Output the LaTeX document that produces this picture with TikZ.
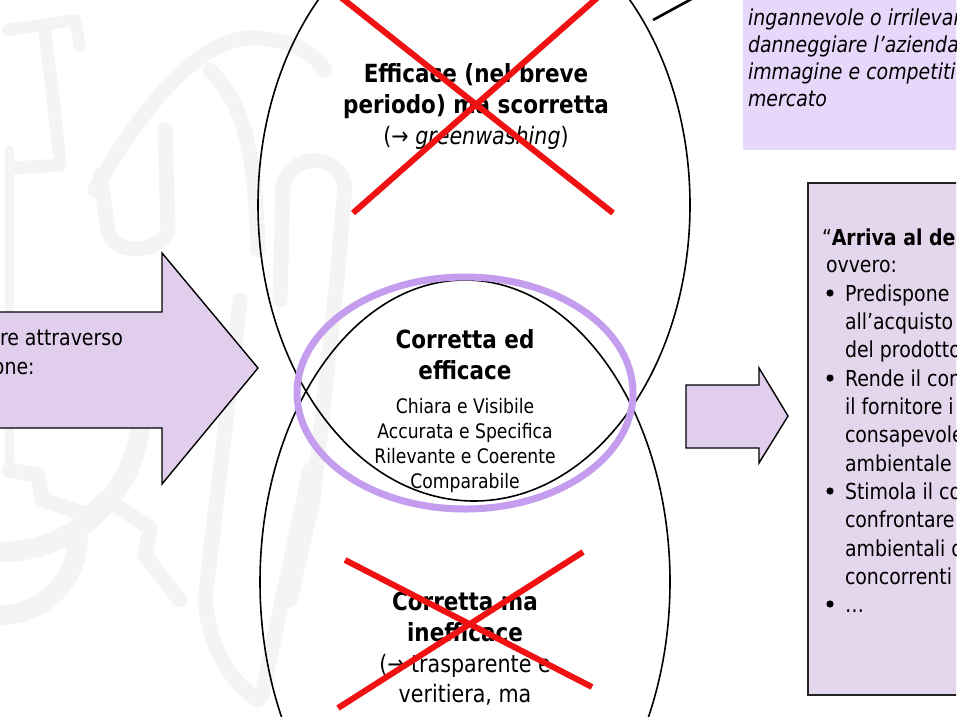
\documentclass[tikz,border=0pt]{standalone}
\usepackage{fontspec}
\setmainfont{DejaVu Sans}[FakeStretch=0.86]
\definecolor{wm}{RGB}{244,244,244}
\definecolor{arrowfill}{RGB}{224,206,236}
\definecolor{boxfill}{RGB}{228,214,236}
\definecolor{topbox}{RGB}{231,215,251}
\definecolor{ringc}{RGB}{197,157,238}
\definecolor{xred}{RGB}{240,18,18}
\definecolor{boxline}{RGB}{35,35,35}
\tikzset{
 wmark/.style={draw=wm, line width=15pt, line cap=round, line join=round},
 lens/.style={draw=black, line width=1.6pt},
 arrowshape/.style={fill=arrowfill, draw=black, line width=1.4pt, line join=miter},
 cross/.style={draw=xred, line width=6pt},
 ln/.style={anchor=base, inner sep=0pt, outer sep=0pt},
 lnw/.style={anchor=base west, inner sep=0pt, outer sep=0pt},
 hbold/.style={font=\fontsize{25}{31}\selectfont\bfseries},
 hreg/.style={font=\fontsize{24}{30}\selectfont},
 smalltxt/.style={font=\fontsize{20}{25}\selectfont},
 boxtxt/.style={font=\fontsize{22}{28}\selectfont},
 itxt/.style={font=\fontsize{22}{28}\selectfont\itshape},
}
\begin{document}
\begin{tikzpicture}[x=1pt,y=-1pt]
\useasboundingbox (0,0) rectangle (960,716);
\fill[white] (0,0) rectangle (960,716);
\begin{scope}
\clip (0,0) rectangle (956,716);
% faint watermark
\draw[wmark, line width=12pt] (8,30) -- (75,20) -- (80,46);
\draw[wmark, line width=13pt] (45,32) .. controls (52,90) and (58,140) .. (60,165) -- (15,168);
\draw[wmark, line width=9pt] (9,150) -- (9,470);
\draw[wmark] (9,470) -- (38,475) -- (42,500) -- (88,515) -- (105,498) -- (150,528) -- (145,556) -- (180,600);
\draw[wmark] (95,190) .. controls (140,110) and (200,35) .. (255,38) .. controls (290,40) and (310,50) .. (325,70);
\draw[wmark] (210,70) .. controls (240,100) and (255,140) .. (258,250);
\draw[wmark] (100,175) -- (108,230) .. controls (112,255) and (160,255) .. (168,230) -- (165,130);
\draw[wmark] (280,300) -- (283,185) .. controls (290,155) and (335,150) .. (345,185) -- (337,280) -- (313,500) -- (290,600);
\draw[wmark] (240,300) -- (205,600) .. controls (210,650) and (230,680) .. (258,700);
\draw[wmark] (310,470) -- (262,695);
\draw[wmark, line width=20pt, line cap=butt] (0,552) arc[start angle=90, end angle=0, radius=141];
\draw[wmark, line width=20pt, line cap=butt] (0,615) arc[start angle=90, end angle=0, radius=78];
% boxes
\fill[topbox] (743,-5) rectangle (960,150);
\fill[boxfill] (808,183) rectangle (960,695);
\draw[boxline, line width=2pt] (960,183) -- (808,183) -- (808,695) -- (960,695);
% arrows
\draw[arrowshape] (-10,312) -- (162,312) -- (162,253) -- (258,368) -- (162,484) -- (162,428) -- (-10,428) -- cycle;
\draw[arrowshape] (686,385) -- (759,385) -- (759,368) -- (788,416) -- (759,463) -- (759,448) -- (686,448) -- cycle;
% ellipses
\draw[lens] (474,205) ellipse [x radius=216, y radius=296];
\draw[lens] (465,582) ellipse [x radius=205, y radius=302];
\draw[draw=ringc, line width=7pt] (465,393) ellipse [x radius=168, y radius=116];
\coordinate (lnA) at (653,20);
\coordinate (lnB) at (697,-4);
\draw[black, line width=2.6pt] (lnA) -- (lnB);
% top block
\node[ln,hbold] (e1) at (476,82) {Efficace (nel breve};
\node[ln,hbold] (e2) at (476,113) {periodo) ma scorretta};
\node[ln,hreg] (e3) at (476,144) {(→ \textit{greenwashing})};
% middle block
\node[ln,hbold] (c1) at (465,348) {Corretta ed};
\node[ln,hbold] (c2) at (465,379) {efficace};
\node[ln,smalltxt] (c3) at (465,413) {Chiara e Visibile};
\node[ln,smalltxt] (c4) at (465,438) {Accurata e Specifica};
\node[ln,smalltxt] (c5) at (465,463) {Rilevante e Coerente};
\node[ln,smalltxt] (c6) at (465,488) {Comparabile};
% bottom block
\node[ln,hbold] (i1) at (465,610) {Corretta ma};
\node[ln,hbold] (i2) at (465,641) {inefficace};
\node[ln,hreg] (i3) at (465,672) {(→ trasparente e};
\node[ln,hreg] (i4) at (465,702) {veritiera, ma};
% crosses
\draw[cross] (338,-5) -- (613,213);
\draw[cross] (597,-2) -- (353,213);
\draw[cross] (345,560) -- (592,687);
\draw[cross] (583,552) -- (338,708);
% left arrow text
\node[lnw,boxtxt] (l1) at (0,345) {re attraverso};
\node[lnw,boxtxt] (l2) at (-7,374) {one:};
% top right box text
\node[lnw,itxt] (r1) at (748,25) {ingannevole o irrilevan};
\node[lnw,itxt] (r2) at (748,52) {danneggiare l’azienda};
\node[lnw,itxt] (r3) at (748,79) {immagine e competiti};
\node[lnw,itxt] (r4) at (748,106) {mercato};
% right box text
\node[lnw,boxtxt] (q0) at (822,245) {“\textbf{Arriva al de}};
\node[lnw,boxtxt] (q1) at (826,272) {ovvero:};
\fill (830,293) circle (3.6);
\node[lnw,boxtxt] (q2) at (845,301) {Predispone};
\node[lnw,boxtxt] (q3) at (845,329) {all’acquisto};
\node[lnw,boxtxt] (q4) at (845,357) {del prodotto};
\fill (830,378) circle (3.6);
\node[lnw,boxtxt] (q5) at (845,386) {Rende il con};
\node[lnw,boxtxt] (q6) at (845,414) {il fornitore i};
\node[lnw,boxtxt] (q7) at (845,442) {consapevole};
\node[lnw,boxtxt] (q8) at (845,471) {ambientale};
\fill (830,491) circle (3.6);
\node[lnw,boxtxt] (q9) at (845,499) {Stimola il co};
\node[lnw,boxtxt] (q10) at (845,527) {confrontare};
\node[lnw,boxtxt] (q11) at (845,556) {ambientali d};
\node[lnw,boxtxt] (q12) at (845,584) {concorrenti};
\fill (830,604) circle (3.6);
\node[lnw,boxtxt] (q13) at (845,612) {…};
\end{scope}
\end{tikzpicture}
\end{document}
